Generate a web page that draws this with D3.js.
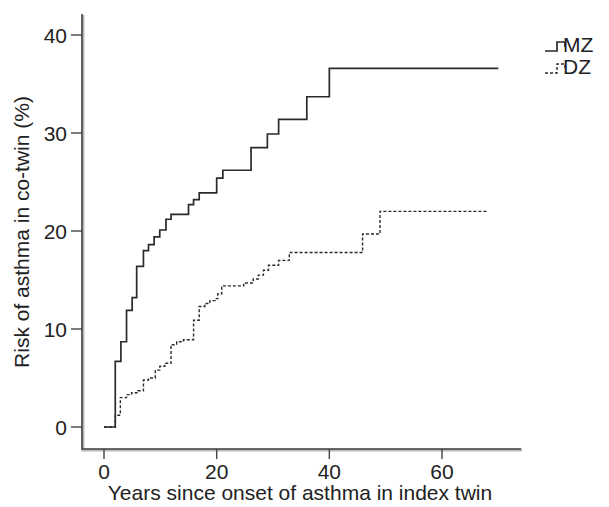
<!DOCTYPE html>
<html>
<head>
<meta charset="utf-8">
<script src="https://cdn.jsdelivr.net/npm/d3@7"></script>
<style>
	body { margin: 0; background: #fff; }
	svg text { font-family: "Liberation Sans", Arial, sans-serif; fill: #222; }
</style>
</head>
<body>
<div id="chart"></div>
<script>

// step points: [years, risk %]
var mzSteps = [[0,0],[2,6.7],[3,8.7],[4,11.9],[5,13.2],[5.8,16.4],[7,18.0],[7.9,18.6],[8.9,19.4],[9.9,20.1],[11,21.2],[11.9,21.7],[15,22.7],[15.9,23.2],[16.9,23.9],[20,25.4],[21.1,26.2],[26.1,28.5],[29,29.9],[31,31.4],[36,33.7],[40,36.6],[70,36.6]];
var dzSteps = [[0,0],[2,1.2],[2.9,3.0],[4,3.3],[4.9,3.5],[6,3.7],[7,4.8],[7.9,5.0],[9.1,5.8],[9.9,6.2],[10.8,6.5],[11.9,8.4],[12.9,8.7],[14.1,8.9],[15.9,10.9],[16.9,12.3],[17.9,12.6],[18.8,12.9],[19.7,13.1],[20.2,13.6],[20.9,14.4],[24.8,14.7],[26.5,15.1],[27.4,15.5],[28.3,16.0],[29.2,16.5],[31,17.0],[32.9,17.8],[45.9,19.7],[49,22.0],[68,22.0]];

var xTicks = [0, 20, 40, 60];
var yTicks = [0, 10, 20, 30, 40];
var seriesNames = ["MZ", "DZ"];

var width = 609, height = 507;

var svg = d3.select("#chart").append("svg")
	.attr("width", width)
	.attr("height", height);

var x = d3.scaleLinear().domain([0, 60]).range([104, 442]);
var y = d3.scaleLinear().domain([0, 40]).range([427, 35]);

var axisLeft = 82, axisBottom = 449;

// axis lines
svg.append("path")
	.attr("d", "M" + axisLeft + ",14V" + axisBottom + "H521")
	.attr("fill", "none")
	.attr("stroke", "#bbb")
	.attr("stroke-width", 3)
	.attr("transform", "translate(1,1)");

svg.append("path")
	.attr("d", "M" + axisLeft + ",14V" + axisBottom + "H521")
	.attr("fill", "none")
	.attr("stroke", "#444")
	.attr("stroke-width", 1.6);

// y ticks
var yt = svg.append("g").selectAll("g")
	.data(yTicks)
	.enter().append("g")
	.attr("transform", function (d) { return "translate(0," + y(d) + ")"; });

yt.append("line")
	.attr("x1", 71).attr("x2", axisLeft)
	.attr("stroke", "#444").attr("stroke-width", 1.4);

yt.append("text")
	.attr("x", 67).attr("dy", "0.36em")
	.style("text-anchor", "end")
	.style("font-size", "21px")
	.text(function (d) { return d; });

// x ticks
var xt = svg.append("g").selectAll("g")
	.data(xTicks)
	.enter().append("g")
	.attr("transform", function (d) { return "translate(" + x(d) + ",0)"; });

xt.append("line")
	.attr("y1", axisBottom).attr("y2", axisBottom + 10)
	.attr("stroke", "#444").attr("stroke-width", 1.4);

xt.append("text")
	.attr("y", 479)
	.style("text-anchor", "middle")
	.style("font-size", "21px")
	.text(function (d) { return d; });

// titles
svg.append("text")
	.attr("x", 300).attr("y", 500)
	.style("text-anchor", "middle")
	.style("font-size", "21px")
	.text("Years since onset of asthma in index twin");

svg.append("text")
	.attr("transform", "translate(29,232) rotate(-90)")
	.style("text-anchor", "middle")
	.style("font-size", "21px")
	.text("Risk of asthma in co-twin (%)");

// curves
var line = d3.line()
	.x(function (d) { return x(d[0]); })
	.y(function (d) { return y(d[1]); })
	.curve(d3.curveStepAfter);

svg.append("path")
	.datum(mzSteps)
	.attr("d", line)
	.attr("fill", "none")
	.attr("stroke", "#2a2a2a")
	.attr("stroke-width", 1.7);

svg.append("path")
	.datum(dzSteps)
	.attr("d", line)
	.attr("fill", "none")
	.attr("stroke", "#2a2a2a")
	.attr("stroke-width", 1.4)
	.attr("stroke-dasharray", "3,2");

// legend
var legend = svg.append("g").selectAll("g")
	.data(seriesNames)
	.enter().append("g")
	.attr("transform", function (d, i) { return "translate(545," + (51 + i * 22) + ")"; });

legend.append("path")
	.attr("d", "M0,0H12V-9H20V-4")
	.attr("fill", "none")
	.attr("stroke", "#2a2a2a")
	.attr("stroke-width", function (d, i) { return i == 0 ? 1.7 : 1.4; })
	.attr("stroke-dasharray", function (d, i) { return i == 0 ? null : "3,2"; });

legend.append("text")
	.attr("x", 18).attr("y", 1)
	.style("font-size", "21px")
	.text(function (d) { return d; });

</script>
</body>
</html>
